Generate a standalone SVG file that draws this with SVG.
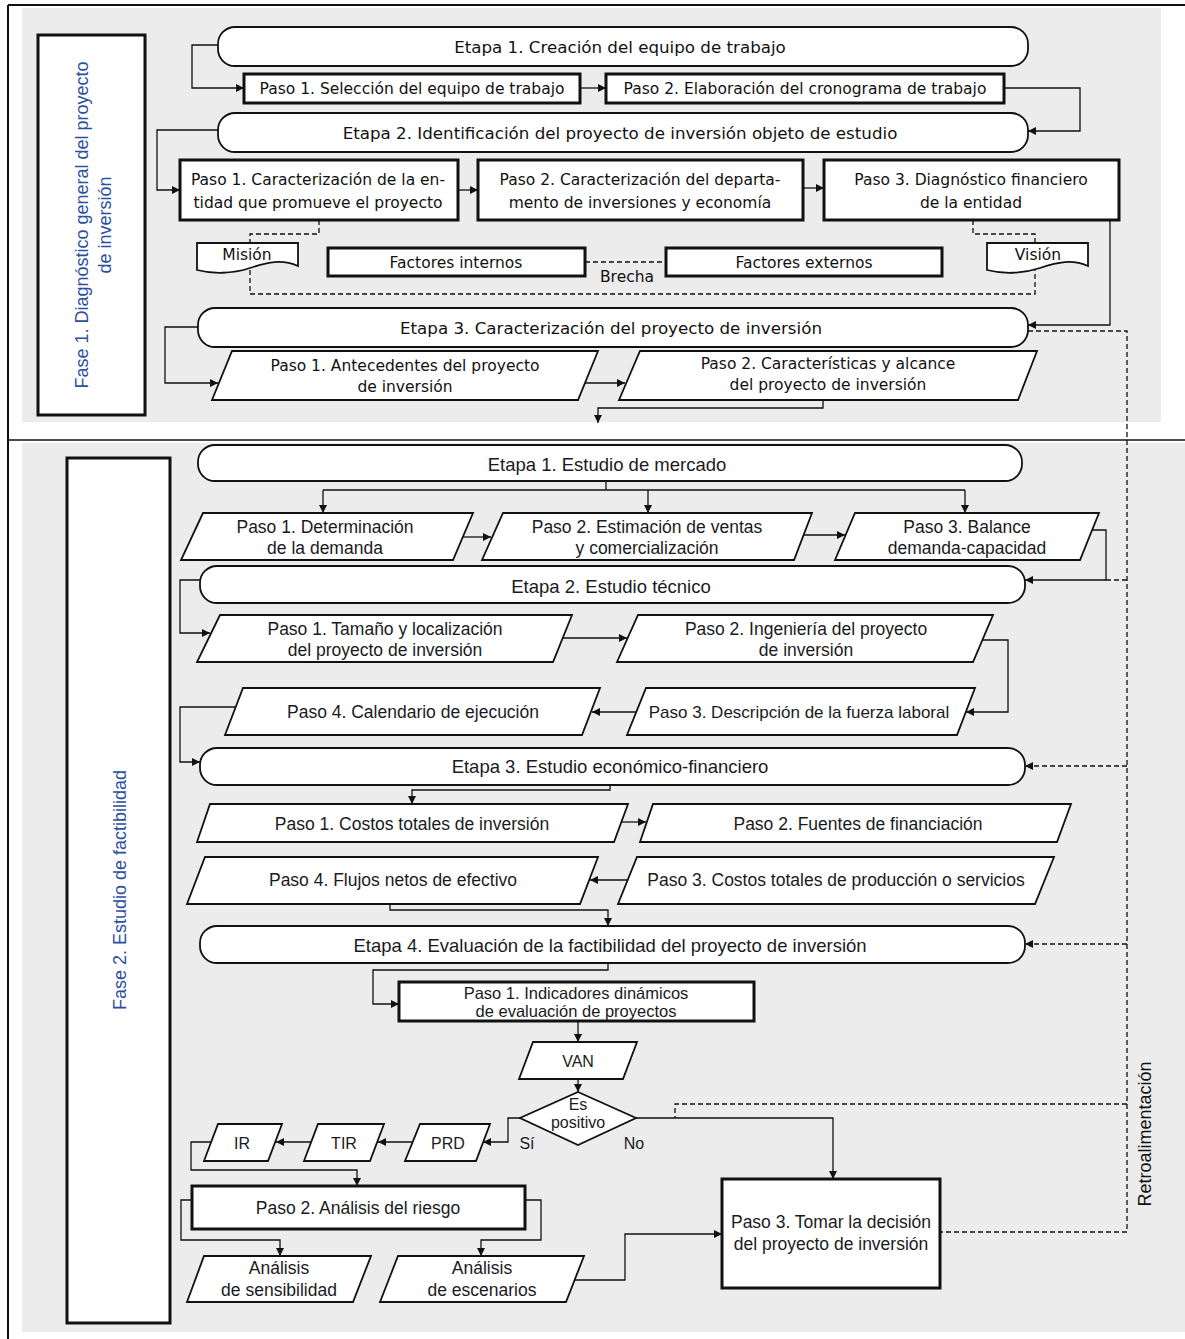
<svg xmlns="http://www.w3.org/2000/svg" width="1185" height="1339" viewBox="0 0 1185 1339">
<style>
text{font-family:"Liberation Sans",Arial,sans-serif;fill:#111;text-anchor:middle;dominant-baseline:central}
.te{font-family:"DejaVu Sans",Verdana,sans-serif;font-size:16.7px}
.tp{font-family:"DejaVu Sans",Verdana,sans-serif;font-size:15.5px}
.be{font-size:18.5px;fill:#1a1a22}
.bp{font-size:17.5px;fill:#1a1a22}
.bs{font-size:16px;fill:#1a1a22}
.blue{fill:#2c4fa0;font-size:18px}
.pill{fill:#fff;stroke:#111;stroke-width:1.8}
.box{fill:#fff;stroke:#111;stroke-width:3}
.para{fill:#fff;stroke:#111;stroke-width:1.8}
.ln{fill:none;stroke:#111;stroke-width:1.3}
.dash{fill:none;stroke:#111;stroke-width:1.3;stroke-dasharray:5,3}
</style>
<defs>
<marker id="ah" viewBox="0 0 10 10" refX="10" refY="5" markerWidth="10" markerHeight="8" markerUnits="userSpaceOnUse" orient="auto"><path d="M0,0 L10,5 L0,10 z" fill="#111"/></marker>
</defs>
<rect x="0" y="0" width="1185" height="1339" fill="#fff"/>
<rect x="22" y="8" width="1139" height="414" fill="#ececec"/>
<rect x="22" y="443" width="1163" height="889" fill="#ececec"/>
<g id="frame" fill="none" stroke="#111">
<line x1="8" y1="5" x2="1185" y2="5" stroke-width="2"/>
<line x1="8" y1="5" x2="8" y2="1339" stroke-width="2"/>
<line x1="8" y1="440" x2="1185" y2="440" stroke-width="1.5"/>
</g>

<g id="fase1"><rect class="box" x="38" y="35" width="107" height="380"/>
<text class="blue" transform="translate(82,225) rotate(-90)">Fase 1. Diagnóstico general del proyecto</text>
<text class="blue" transform="translate(105,225) rotate(-90)">de inversión</text></g>

<g id="f1e1"><rect class="pill" x="218" y="27" width="810" height="39" rx="17"/><text class="te" x="620" y="47">Etapa 1. Creación del equipo de trabajo</text></g>
<g id="f1e1p1"><rect class="box" x="244" y="74" width="336" height="29"/><text class="tp" x="412" y="89">Paso 1. Selección del equipo de trabajo</text></g>
<g id="f1e1p2"><rect class="box" x="606" y="74" width="398" height="29"/><text class="tp" x="805" y="89">Paso 2. Elaboración del cronograma de trabajo</text></g>

<g id="f1e2"><rect class="pill" x="218" y="113" width="810" height="39" rx="17"/><text class="te" x="620" y="133">Etapa 2. Identificación del proyecto de inversión objeto de estudio</text></g>
<g id="f1e2p1"><rect class="box" x="180" y="160" width="278" height="60"/><text class="tp" x="318" y="180">Paso 1. Caracterización de la en-</text><text class="tp" x="318" y="203">tidad que promueve el proyecto</text></g>
<g id="f1e2p2"><rect class="box" x="478" y="160" width="325" height="60"/><text class="tp" x="640" y="180">Paso 2. Caracterización del departa-</text><text class="tp" x="640" y="203">mento de inversiones y economía</text></g>
<g id="f1e2p3"><rect class="box" x="824" y="160" width="295" height="60"/><text class="tp" x="971" y="180">Paso 3. Diagnóstico financiero</text><text class="tp" x="971" y="203">de la entidad</text></g>

<g id="mision"><path class="para" d="M197,243 H298 V266 C282,259 268,262 250,268 C232,274 212,274 197,270 Z"/><text class="tp" x="247" y="255">Misión</text></g>
<g id="finternos"><rect class="box" x="328" y="248" width="257" height="28"/><text class="tp" x="456" y="263">Factores internos</text></g>
<g id="fexternos"><rect class="box" x="666" y="248" width="276" height="28"/><text class="tp" x="804" y="263">Factores externos</text></g>
<g id="brecha"><text class="tp" x="627" y="277">Brecha</text></g>
<g id="vision"><path class="para" d="M987,243 H1088 V266 C1072,259 1058,262 1040,268 C1022,274 1002,274 987,270 Z"/><text class="tp" x="1038" y="255">Visión</text></g>

<g id="f1e3"><rect class="pill" x="198" y="308" width="830" height="39" rx="17"/><text class="te" x="611" y="328">Etapa 3. Caracterización del proyecto de inversión</text></g>
<g id="f1e3p1"><path class="para" d="M232,351 H598 L578,400 H212 Z"/><text class="tp" x="405" y="366">Paso 1. Antecedentes del proyecto</text><text class="tp" x="405" y="387">de inversión</text></g>
<g id="f1e3p2"><path class="para" d="M640,351 H1037 L1018,400 H619 Z"/><text class="tp" x="828" y="364">Paso 2. Características y alcance</text><text class="tp" x="828" y="385">del proyecto de inversión</text></g>

<g id="fase2"><rect class="box" x="67" y="458" width="103" height="865"/>
<text class="blue" transform="translate(120,890) rotate(-90)">Fase 2. Estudio de factibilidad</text></g>

<g id="f2e1"><rect class="pill" x="198" y="445" width="824" height="36" rx="17"/><text class="be" x="607" y="464">Etapa 1. Estudio de mercado</text></g>
<g id="f2e1p1"><path class="para" d="M203,513 H473 L453,560 H181 Z"/><text class="bp" x="325" y="527">Paso 1. Determinación</text><text class="bp" x="325" y="548">de la demanda</text></g>
<g id="f2e1p2"><path class="para" d="M503,513 H812 L794,560 H482 Z"/><text class="bp" x="647" y="527">Paso 2. Estimación de ventas</text><text class="bp" x="647" y="548">y comercialización</text></g>
<g id="f2e1p3"><path class="para" d="M855,513 H1099 L1080,560 H835 Z"/><text class="bp" x="967" y="527">Paso 3. Balance</text><text class="bp" x="967" y="548">demanda-capacidad</text></g>

<g id="f2e2"><rect class="pill" x="200" y="566" width="825" height="37" rx="17"/><text class="be" x="611" y="586">Etapa 2. Estudio técnico</text></g>
<g id="f2e2p1"><path class="para" d="M220,615 H572 L553,662 H197 Z"/><text class="bp" x="385" y="629">Paso 1. Tamaño y localización</text><text class="bp" x="385" y="650">del proyecto de inversión</text></g>
<g id="f2e2p2"><path class="para" d="M638,615 H993 L973,662 H617 Z"/><text class="bp" x="806" y="629">Paso 2. Ingeniería del proyecto</text><text class="bp" x="806" y="650">de inversión</text></g>
<g id="f2e2p4"><path class="para" d="M243,688 H600 L582,735 H225 Z"/><text class="bp" x="413" y="712">Paso 4. Calendario de ejecución</text></g>
<g id="f2e2p3"><path class="para" d="M646,688 H975 L957,735 H627 Z"/><text class="bp" style="font-size:17px" x="799" y="712">Paso 3. Descripción de la fuerza laboral</text></g>

<g id="f2e3"><rect class="pill" x="200" y="748" width="825" height="37" rx="17"/><text class="be" x="610" y="766">Etapa 3. Estudio económico-financiero</text></g>
<g id="f2e3p1"><path class="para" d="M210,804 H628 L614,842 H197 Z"/><text class="bp" x="412" y="824">Paso 1. Costos totales de inversión</text></g>
<g id="f2e3p2"><path class="para" d="M653,804 H1071 L1057,842 H640 Z"/><text class="bp" x="858" y="824">Paso 2. Fuentes de financiación</text></g>
<g id="f2e3p4"><path class="para" d="M205,857 H598 L580,904 H187 Z"/><text class="bp" x="393" y="880">Paso 4. Flujos netos de efectivo</text></g>
<g id="f2e3p3"><path class="para" d="M637,857 H1054 L1035,904 H618 Z"/><text class="bp" x="836" y="880">Paso 3. Costos totales de producción o servicios</text></g>

<g id="f2e4"><rect class="pill" x="200" y="926" width="825" height="37" rx="17"/><text class="be" x="610" y="945">Etapa 4. Evaluación de la factibilidad del proyecto de inversión</text></g>
<g id="f2e4p1"><rect class="box" x="399" y="982" width="355" height="39"/><text class="bp" style="font-size:16.5px" x="576" y="993">Paso 1. Indicadores dinámicos</text><text class="bp" style="font-size:16.5px" x="576" y="1011">de evaluación de proyectos</text></g>
<g id="van"><path class="para" d="M533,1042 H637 L623,1079 H519 Z"/><text class="bs" x="578" y="1061">VAN</text></g>
<g id="espositivo"><path class="para" d="M578,1092 L636,1118 L578,1145 L520,1118 Z"/><text class="bs" x="578" y="1104">Es</text><text class="bs" x="578" y="1122">positivo</text></g>
<g id="si"><text class="bs" x="527" y="1143">Sí</text></g>
<g id="no"><text class="bs" x="634" y="1143">No</text></g>
<g id="prd"><path class="para" d="M420,1124 H490 L476,1161 H405 Z"/><text class="bs" x="448" y="1143">PRD</text></g>
<g id="tir"><path class="para" d="M318,1124 H384 L370,1161 H304 Z"/><text class="bs" x="344" y="1143">TIR</text></g>
<g id="ir"><path class="para" d="M218,1124 H282 L268,1161 H204 Z"/><text class="bs" x="242" y="1143">IR</text></g>
<g id="f2e4p2"><rect class="box" x="192" y="1186" width="333" height="43"/><text class="bp" x="358" y="1208">Paso 2. Análisis del riesgo</text></g>
<g id="sensibilidad"><path class="para" d="M204,1256 H371 L353,1302 H187 Z"/><text class="bp" x="279" y="1268">Análisis</text><text class="bp" x="279" y="1290">de sensibilidad</text></g>
<g id="escenarios"><path class="para" d="M398,1256 H584 L566,1302 H380 Z"/><text class="bp" x="482" y="1268">Análisis</text><text class="bp" x="482" y="1290">de escenarios</text></g>
<g id="f2e4p3"><rect class="box" x="722" y="1179" width="218" height="109"/><text class="bp" x="831" y="1222">Paso 3. Tomar la decisión</text><text class="bp" x="831" y="1244">del proyecto de inversión</text></g>
<g id="retro"><text class="bp" style="font-size:18px;fill:#111" transform="translate(1145,1134) rotate(-90)">Retroalimentación</text></g>

<g id="connectors">
<path class="ln" marker-end="url(#ah)" d="M218,45 H192 V88 H244"/>
<path class="ln" marker-end="url(#ah)" d="M580,88 H606"/>
<path class="ln" marker-end="url(#ah)" d="M1004,88 H1080 V131 H1028"/>
<path class="ln" marker-end="url(#ah)" d="M218,130 H157 V190 H180"/>
<path class="ln" marker-end="url(#ah)" d="M458,190 H478"/>
<path class="ln" marker-end="url(#ah)" d="M803,188 H824"/>
<path class="ln" marker-end="url(#ah)" d="M1110,220 V325 H1028"/>
<path class="ln" marker-end="url(#ah)" d="M198,327 H165 V383 H218"/>
<path class="ln" marker-end="url(#ah)" d="M585,383 H625"/>
<path class="ln" marker-end="url(#ah)" d="M823,400 V408 H598 V423"/>
<path class="dash" d="M319,220 V234 H250 V243"/>
<path class="dash" d="M250,270 V294 H1035 V270"/>
<path class="dash" d="M973,220 V234 H1035 V243"/>
<path class="dash" d="M585,262 H666"/>
<path class="dash" d="M1028,331 H1127 V1232 H940"/>
<path class="dash" d="M1127,580 H1106"/>
<path class="dash" marker-end="url(#ah)" d="M1127,766 H1025"/>
<path class="dash" marker-end="url(#ah)" d="M1127,944 H1025"/>
<path class="dash" d="M1127,1104 H675 V1118"/>
<path class="ln" d="M606,481 V490 M323,490 H965"/>
<path class="ln" marker-end="url(#ah)" d="M323,490 V513"/>
<path class="ln" marker-end="url(#ah)" d="M648,490 V513"/>
<path class="ln" marker-end="url(#ah)" d="M965,490 V513"/>
<path class="ln" marker-end="url(#ah)" d="M463,537 H491"/>
<path class="ln" marker-end="url(#ah)" d="M804,535 H845"/>
<path class="ln" marker-end="url(#ah)" d="M1092,530 H1106 V580 H1025"/>
<path class="ln" marker-end="url(#ah)" d="M200,580 H180 V633 H210"/>
<path class="ln" marker-end="url(#ah)" d="M563,638 H627"/>
<path class="ln" marker-end="url(#ah)" d="M982,640 H1008 V712 H966"/>
<path class="ln" marker-end="url(#ah)" d="M636,712 H592"/>
<path class="ln" marker-end="url(#ah)" d="M236,707 H180 V762 H200"/>
<path class="ln" marker-end="url(#ah)" d="M610,785 V790 H412 V804"/>
<path class="ln" marker-end="url(#ah)" d="M621,822 H646"/>
<path class="ln" marker-end="url(#ah)" d="M628,880 H590"/>
<path class="ln" marker-end="url(#ah)" d="M390,904 V910 H608 V926"/>
<path class="ln" marker-end="url(#ah)" d="M608,963 V970 H373 V1004 H399"/>
<path class="ln" marker-end="url(#ah)" d="M578,1021 V1042"/>
<path class="ln" marker-end="url(#ah)" d="M578,1079 V1092"/>
<path class="ln" marker-end="url(#ah)" d="M520,1118 H508 V1142 H483"/>
<path class="ln" marker-end="url(#ah)" d="M636,1118 H833 V1179"/>
<path class="ln" marker-end="url(#ah)" d="M413,1142 H378"/>
<path class="ln" marker-end="url(#ah)" d="M311,1142 H276"/>
<path class="ln" marker-end="url(#ah)" d="M211,1142 H191 V1170 H357 V1186"/>
<path class="ln" marker-end="url(#ah)" d="M192,1200 H181 V1240 H280 V1256"/>
<path class="ln" marker-end="url(#ah)" d="M525,1200 H541 V1240 H481 V1256"/>
<path class="ln" marker-end="url(#ah)" d="M575,1280 H625 V1234 H722"/>
</g>
</svg>
